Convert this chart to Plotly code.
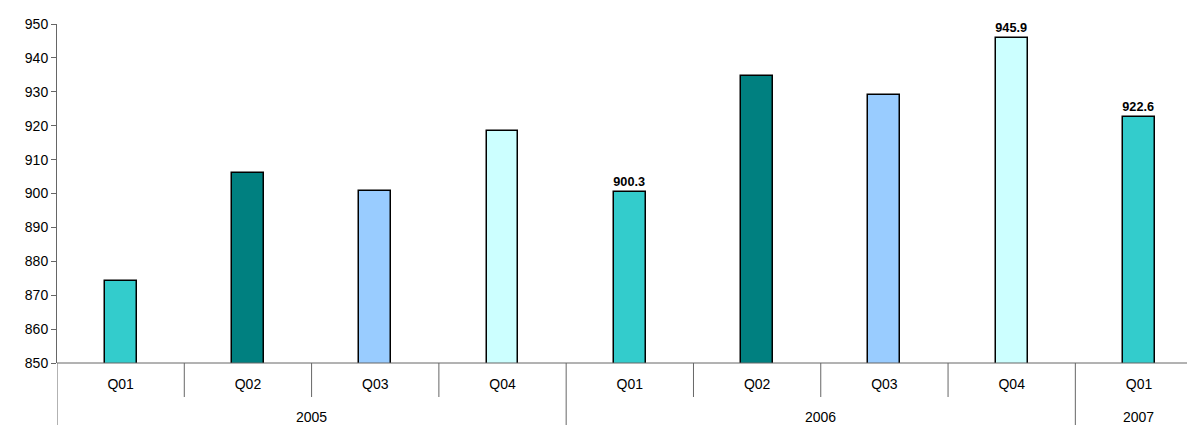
import plotly.graph_objects as go

years = ["2005", "2005", "2005", "2005", "2006", "2006", "2006", "2006", "2007"]
quarters = ["Q01", "Q02", "Q03", "Q04", "Q01", "Q02", "Q03", "Q04", "Q01"]
values = [874.2, 906.1, 900.6, 918.4, 900.3, 934.8, 929.0, 945.9, 922.6]
labels = ["", "", "", "", "900.3", "", "", "945.9", "922.6"]
quarter_colors = {"Q01": "#33CCCC", "Q02": "#008080", "Q03": "#99CCFF", "Q04": "#CCFFFF"}
colors = [quarter_colors[q] for q in quarters]

cats = [f"{y} {q}" for y, q in zip(years, quarters)]
FONT = "Liberation Sans, Arial"
AXIS = "#666666"
PLOT_H = 425 - 16 - 70

fig = go.Figure(go.Bar(
    x=cats,
    y=values,
    width=0.25,
    marker=dict(color=colors, line=dict(color="black", width=1.5)),
    text=labels,
    textposition="outside",
    textfont=dict(family=FONT, size=14, color="black", weight="bold"),
    cliponaxis=False,
))

# year group labels and dividers, positioned from the category indices
unique_years = list(dict.fromkeys(years))
for yr in unique_years:
    idx = [i for i, v in enumerate(years) if v == yr]
    fig.add_annotation(x=(idx[0] + idx[-1]) / 2, y=0, xref="x", yref="paper",
                       text=yr, showarrow=False, yanchor="middle", yshift=-54,
                       font=dict(family=FONT, size=14, color="black"))
    fig.add_shape(type="line", xref="x", yref="paper", x0=idx[0] - 0.5, x1=idx[0] - 0.5,
                  y0=0, y1=-0.25, line=dict(color=AXIS, width=1))
    # short quarter ticks between categories inside the year group
    for i in idx[1:]:
        fig.add_shape(type="line", xref="x", yref="paper", x0=i - 0.5, x1=i - 0.5,
                      y0=0, y1=-34 / PLOT_H, line=dict(color=AXIS, width=1))

# last boundary tick after final category
last = len(cats)
fig.add_shape(type="line", xref="x", yref="paper", x0=last - 0.5, x1=last - 0.5,
              y0=0, y1=-0.25, line=dict(color=AXIS, width=1))

# horizontal category axis line
fig.add_shape(type="line", xref="paper", yref="paper", x0=0, x1=1, y0=0, y1=0,
              line=dict(color=AXIS, width=1))

fig.update_layout(
    width=1195, height=425,
    margin=dict(l=49, r=8, t=16, b=70),
    plot_bgcolor="white", paper_bgcolor="white",
    font=dict(family=FONT, size=14, color="black"),
    showlegend=False,
    bargap=0,
)
fig.update_yaxes(range=[850, 950], dtick=10, showgrid=False, showline=True,
                 linecolor=AXIS, linewidth=1, ticks="outside", ticklen=5,
                 tickcolor=AXIS, zeroline=False, automargin=False)
fig.update_xaxes(range=[-0.5, 8.44], showline=False,
                 tickmode="array", tickvals=cats, ticktext=quarters,
                 ticks="", showgrid=False, ticklabelstandoff=11, automargin=False)

fig.write_html("out.html")
